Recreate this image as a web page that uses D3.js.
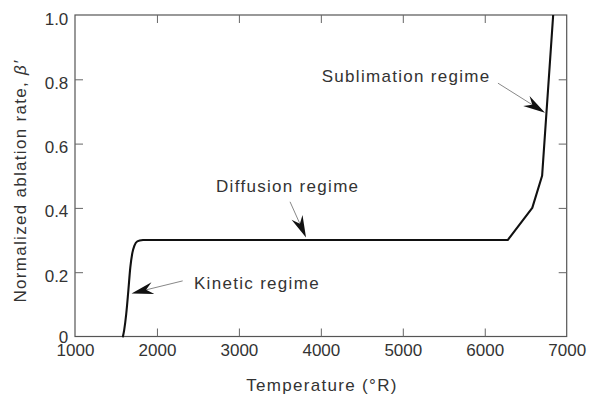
<!DOCTYPE html>
<html>
<head>
<meta charset="utf-8">
<script src="https://cdn.jsdelivr.net/npm/d3@7"></script>
<style>
  body { margin: 0; background: #fff; }
  svg { display: block; font-family: "Liberation Sans", Arial, Helvetica, sans-serif; }
</style>
</head>
<body>
<svg id="chart" width="591" height="396"></svg>
<script>
    // curve: temperature (°R) vs normalized ablation rate
    var temps = [1585, 1600, 1625, 1650, 1675, 1700, 1725, 1760, 1830, 6280, 6580, 6700, 6835];
    var rates = [0, 0.02, 0.07, 0.14, 0.215, 0.26, 0.283, 0.296, 0.30, 0.30, 0.40, 0.50, 1.0];
    var kineticEnd = 8; // first points are a smooth knee, the rest is straight segments

    var xTicks = [1000, 2000, 3000, 4000, 5000, 6000, 7000];
    var yTicks = [0, 0.2, 0.4, 0.6, 0.8, 1.0];

    // annotations in data units: label anchor, arrow tail, arrow tip
    var noteText = ["Kinetic regime", "Diffusion regime", "Sublimation regime"];
    var noteAt = [[2452, 0.147], [2721, 0.451], [4010, 0.791]];
    var noteFrom = [[2314, 0.173], [3624, 0.419], [6161, 0.788]];
    var noteTo = [[1690, 0.134], [3819, 0.308], [6735, 0.696]];

    var margin = {left: 75, top: 15, right: 24.3, bottom: 59.5};
    var width = 591 - margin.left - margin.right;
    var height = 396 - margin.top - margin.bottom;

    var svg = d3.select("#chart");
    var g = svg.append("g").attr("transform", "translate(" + margin.left + "," + margin.top + ")");

    var xScale = d3.scaleLinear().domain([1000, 7000]).range([0, width]);
    var yScale = d3.scaleLinear().domain([0, 1]).range([height, 0]);

    var data = temps.map(function(t, i) { return [t, rates[i]]; });

    // frame
    g.append("rect")
        .attr("x", 0).attr("y", 0)
        .attr("width", width).attr("height", height)
        .attr("fill", "none")
        .attr("stroke", "#555")
        .attr("stroke-width", 1.2);

    // inward ticks on all four sides
    var inner = xTicks.slice(1, -1);
    var innerY = yTicks.slice(1, -1);

    var bottomAxis = g.append("g")
        .attr("transform", "translate(0," + height + ")")
        .call(d3.axisBottom(xScale).tickValues(xTicks).tickSizeInner(-8).tickSizeOuter(0).tickFormat(d3.format("d")));
    var topAxis = g.append("g")
        .call(d3.axisTop(xScale).tickValues(inner).tickSizeInner(-8).tickSizeOuter(0).tickFormat(""));
    var leftAxis = g.append("g")
        .call(d3.axisLeft(yScale).tickValues(yTicks).tickSizeInner(-8).tickSizeOuter(0)
            .tickFormat(function(d) { return d === 0 ? "0" : d3.format(".1f")(d); }));
    var rightAxis = g.append("g")
        .attr("transform", "translate(" + width + ",0)")
        .call(d3.axisRight(yScale).tickValues(innerY).tickSizeInner(-8).tickSizeOuter(0).tickFormat(""));

    [bottomAxis, topAxis, leftAxis, rightAxis].forEach(function(a) {
        a.select(".domain").remove();
        a.selectAll(".tick line").attr("stroke", "#666").attr("stroke-width", 1);
    });
    // end ticks sit on the frame, hide them
    bottomAxis.selectAll(".tick line").filter(function(d) { return d === 1000 || d === 7000; }).remove();
    leftAxis.selectAll(".tick line").filter(function(d) { return d === 0 || d === 1; }).remove();

    bottomAxis.selectAll("text")
        .attr("y", 19).attr("dy", 0)
        .attr("font-size", 17).attr("font-family", null)
        .attr("fill", "#333");
    leftAxis.selectAll("text")
        .attr("x", -6.7)
        .attr("dy", function(d) { return d === 0 ? "0.38em" : "0.53em"; })
        .attr("font-size", 17).attr("font-family", null)
        .attr("fill", "#333");

    // curve
    var line = d3.line()
        .x(function(d) { return xScale(d[0]); })
        .y(function(d) { return yScale(d[1]); });

    g.append("path")
        .datum(data.slice(0, kineticEnd + 1))
        .attr("d", line.curve(d3.curveMonotoneX))
        .attr("fill", "none")
        .attr("stroke", "#111")
        .attr("stroke-width", 2.1)
        .attr("stroke-linecap", "round");

    g.append("path")
        .datum(data.slice(kineticEnd))
        .attr("d", line.curve(d3.curveLinear))
        .attr("fill", "none")
        .attr("stroke", "#111")
        .attr("stroke-width", 2.1)
        .attr("stroke-linejoin", "round");

    // annotations
    noteText.forEach(function(txt, i) {
        g.append("text")
            .attr("x", xScale(noteAt[i][0]))
            .attr("y", yScale(noteAt[i][1]))
            .attr("font-size", 17)
            .attr("letter-spacing", 1.3)
            .attr("fill", "#333")
            .text(txt);

        var x0 = xScale(noteFrom[i][0]), y0 = yScale(noteFrom[i][1]);
        var x1 = xScale(noteTo[i][0]), y1 = yScale(noteTo[i][1]);
        var ang = Math.atan2(y1 - y0, x1 - x0);
        var ux = Math.cos(ang), uy = Math.sin(ang);
        var px = -uy, py = ux;
        var len = 22, half = 6, notch = 15;

        g.append("line")
            .attr("x1", x0).attr("y1", y0)
            .attr("x2", x1 - ux * notch).attr("y2", y1 - uy * notch)
            .attr("stroke", "#888")
            .attr("stroke-width", 1);

        var head = [
            [x1, y1],
            [x1 - ux * len + px * half, y1 - uy * len + py * half],
            [x1 - ux * notch, y1 - uy * notch],
            [x1 - ux * len - px * half, y1 - uy * len - py * half]
        ];
        g.append("path")
            .attr("d", "M" + head.map(function(p) { return p[0] + "," + p[1]; }).join("L") + "Z")
            .attr("fill", "#111");
    });

    // axis titles
    svg.append("text")
        .attr("x", 322)
        .attr("y", 391)
        .attr("text-anchor", "middle")
        .attr("font-size", 17)
        .attr("letter-spacing", 1.3)
        .attr("fill", "#333")
        .text("Temperature (°R)");

    var yTitle = svg.append("text")
        .attr("transform", "translate(26,181) rotate(-90)")
        .attr("text-anchor", "middle")
        .attr("font-size", 17)
        .attr("letter-spacing", 1.3)
        .attr("fill", "#333");
    yTitle.append("tspan").text("Normalized ablation rate, ");
    yTitle.append("tspan").attr("font-style", "italic").text("β′");
</script>
</body>
</html>
